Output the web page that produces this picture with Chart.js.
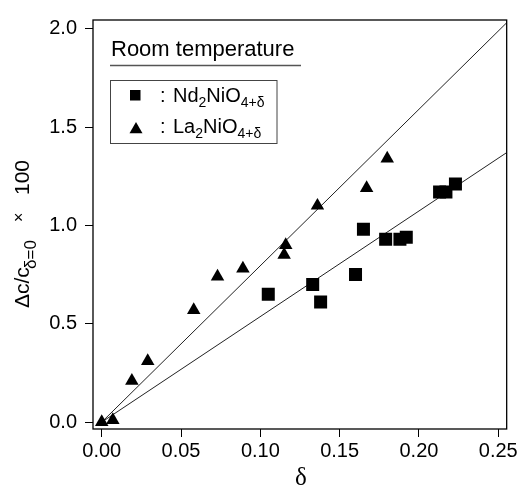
<!DOCTYPE html>
<html>
<head>
<meta charset="utf-8">
<script src="https://cdn.jsdelivr.net/npm/chart.js@4/dist/chart.umd.min.js"></script>
<style>
html,body{margin:0;padding:0;background:#fff;}
#wrap{width:520px;height:488px;}
</style>
</head>
<body>
<div id="wrap"><canvas id="c" width="520" height="488"></canvas></div>
<script>
// ---- data ----
const ndDelta = [0.105, 0.133, 0.138, 0.160, 0.165, 0.179, 0.188, 0.192, 0.213, 0.217, 0.223];
const ndValue = [0.65, 0.70, 0.61, 0.75, 0.98, 0.93, 0.93, 0.94, 1.17, 1.17, 1.21];
const laDelta = [0.000, 0.007, 0.019, 0.029, 0.058, 0.073, 0.089, 0.115, 0.116, 0.136, 0.167, 0.180];
const laValue = [0.00, 0.01, 0.21, 0.31, 0.57, 0.74, 0.78, 0.85, 0.90, 1.10, 1.19, 1.34];
// fitted straight lines (end points)
const ndFitDelta = [0, 0.2553];
const ndFitValue = [0, 1.37];
const laFitDelta = [0, 0.2553];
const laFitValue = [0, 2.03];
const xTickLabels = ['0.00','0.05','0.10','0.15','0.20','0.25'];
const yTickLabels = ['0.0','0.5','1.0','1.5','2.0'];
const titleText = 'Room temperature';

const pts = (xs, ys) => xs.map((x, i) => ({x: x, y: ys[i]}));
const FONT = '"Liberation Sans", Arial, sans-serif';

const decor = {
  id: 'decor',
  afterDraw(chart) {
    const ctx = chart.ctx;
    const a = chart.chartArea;
    ctx.save();
    // frame
    ctx.strokeStyle = '#000';
    ctx.lineWidth = 1.3;
    ctx.strokeRect(a.left, a.top, a.right - a.left, a.bottom - a.top);

    ctx.fillStyle = '#000';
    ctx.textBaseline = 'alphabetic';
    ctx.textAlign = 'left';
    // title
    ctx.font = '22px ' + FONT;
    ctx.fillText(titleText, 111, 56);
    const tw = ctx.measureText(titleText).width;
    ctx.strokeStyle = '#555';
    ctx.lineWidth = 1.5;
    ctx.beginPath(); ctx.moveTo(110, 65.5); ctx.lineTo(110 + Math.max(tw, 190) + 1, 65.5); ctx.stroke();

    // legend box
    ctx.strokeStyle = '#444';
    ctx.lineWidth = 1;
    ctx.strokeRect(110.5, 80.5, 166.5, 63);
    // markers
    ctx.fillRect(130, 90, 10.5, 10.5);
    ctx.beginPath(); ctx.moveTo(136, 122); ctx.lineTo(142.5, 133.3); ctx.lineTo(129.5, 133.3); ctx.closePath(); ctx.fill();

    function rich(x, y, parts) {
      let cx = x;
      for (const p of parts) {
        ctx.font = (p.sub ? '14px ' : '20px ') + FONT;
        ctx.fillText(p.t, cx, y + (p.sub ? 5 : 0));
        cx += ctx.measureText(p.t).width;
      }
    }
    ctx.font = '20px ' + FONT;
    ctx.fillText(':', 160, 101.7);
    ctx.fillText(':', 160, 133.3);
    rich(173, 101.7, [{t:'Nd'},{t:'2',sub:1},{t:'NiO'},{t:'4+δ',sub:1}]);
    rich(173, 133.3, [{t:'La'},{t:'2',sub:1},{t:'NiO'},{t:'4+δ',sub:1}]);

    // x axis title
    ctx.font = '25px "Liberation Serif", serif';
    ctx.textAlign = 'center';
    ctx.fillText('δ', 301, 485);

    // y axis title (rotated), pieces placed along the axis
    ctx.translate(29, 308);
    ctx.rotate(-Math.PI / 2);
    ctx.textAlign = 'left';
    ctx.font = '21px ' + FONT;
    ctx.fillText('Δc/c', 0, 0);
    ctx.font = '17px ' + FONT;
    ctx.fillText('δ=0', 39, 7);
    ctx.font = '16px ' + FONT;
    ctx.fillText('×', 86, -5);
    ctx.font = '21px ' + FONT;
    ctx.fillText('100', 113, 0);
    ctx.restore();
  }
};

new Chart(document.getElementById('c'), {
  type: 'scatter',
  data: {
    datasets: [
      {label: 'Nd2NiO4+δ', data: pts(ndDelta, ndValue), pointStyle: 'rect', pointRadius: 9.2, pointHoverRadius: 9.2,
       backgroundColor: '#000', borderColor: '#000', pointBorderWidth: 0},
      {label: 'La2NiO4+δ', data: pts(laDelta, laValue), pointStyle: 'triangle', pointRadius: 7.8, pointHoverRadius: 7.8,
       backgroundColor: '#000', borderColor: '#000', pointBorderWidth: 0},
      {label: 'fit Nd', data: pts(ndFitDelta, ndFitValue), showLine: true, pointRadius: 0, borderColor: '#222', borderWidth: 1},
      {label: 'fit La', data: pts(laFitDelta, laFitValue), showLine: true, pointRadius: 0, borderColor: '#222', borderWidth: 1}
    ]
  },
  options: {
    responsive: false,
    devicePixelRatio: 1,
    animation: false,
    layout: {padding: {top: 16, right: 13, left: 0, bottom: 0}},
    plugins: {legend: {display: false}, tooltip: {enabled: false}},
    scales: {
      x: {
        type: 'linear', min: -0.0055, max: 0.2553,
        afterFit: s => { s.height = 59; },
        border: {display: false},
        grid: {drawOnChartArea: false, drawTicks: true, tickLength: 8, color: '#000', lineWidth: 1},
        ticks: {stepSize: 0.05, includeBounds: false, autoSkip: false, maxRotation: 0, padding: 2, color: '#000',
          font: {family: FONT, size: 20},
          callback: (v) => { const i = Math.round(v / 0.05); return (i >= 0 && i < xTickLabels.length && Math.abs(v - i*0.05) < 1e-6) ? xTickLabels[i] : ''; }}
      },
      y: {
        type: 'linear', min: -0.035, max: 2.044,
        afterFit: s => { s.width = 93; },
        border: {display: false},
        grid: {drawOnChartArea: false, drawTicks: true, tickLength: 8, color: '#000', lineWidth: 1},
        ticks: {stepSize: 0.5, includeBounds: false, autoSkip: false, padding: 8, color: '#000',
          font: {family: FONT, size: 20},
          callback: (v) => { const i = Math.round(v / 0.5); return (i >= 0 && i < yTickLabels.length && Math.abs(v - i*0.5) < 1e-6) ? yTickLabels[i] : ''; }}
      }
    }
  },
  plugins: [decor]
});
</script>
</body>
</html>
